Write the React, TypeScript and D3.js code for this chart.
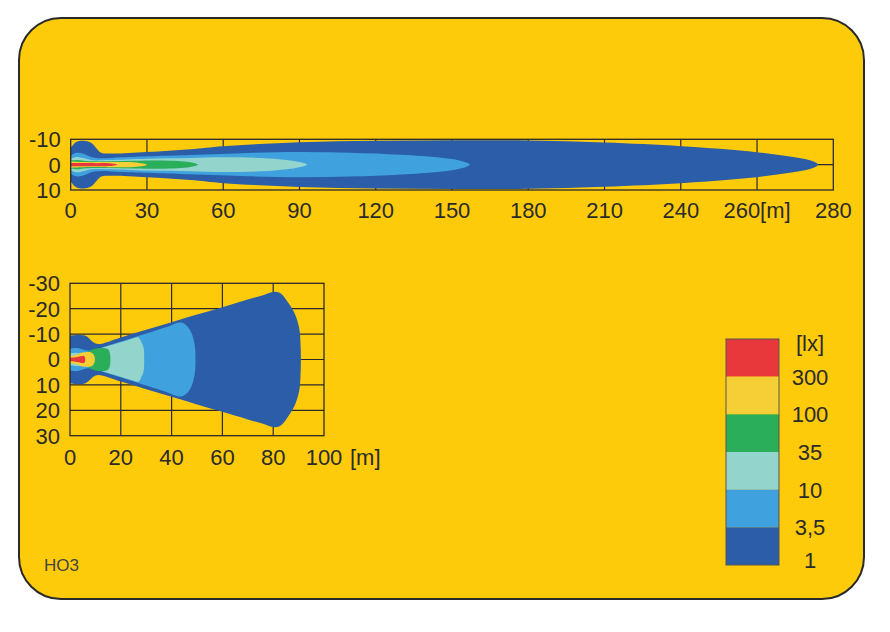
import React from 'react';
import * as d3 from 'd3';

// Illuminance levels (lx) and their colours, lowest first
const LEVELS = ['1', '3,5', '10', '35', '100', '300'];
const LEVEL_COLORS = ['#2B5DA9', '#3FA1DD', '#93D4CD', '#2BAE5A', '#F6CF36', '#E9383C'];
const LEGEND_LABELS = ['[lx]', '300', '100', '35', '10', '3,5', '1'];

// Top chart (distance 0..300 m, lateral -10..10 m) — half-width profiles [x m, half-width m]
const TOP_X_TICKS = [0, 30, 60, 90, 120, 150, 180, 210, 240, 270, 300];
const TOP_X_LABELS = ['0', '30', '60', '90', '120', '150', '180', '210', '240', '260[m]', '280'];
const TOP_Y_TICKS = [-10, 0, 10];
const TOP_1 = [[0, 6.5], [2, 8.8], [5, 9.4], [8, 8.6], [10, 6.6], [12, 4.7], [16, 4.4], [30, 5.0], [47, 6.1], [60, 7.3], [90, 8.8], [120, 9.4], [150, 9.6], [180, 9.5], [210, 8.7], [240, 7.3], [260, 5.9], [275, 4.3], [286, 2.7], [292, 1.3], [294, 0]];
const TOP_3_5 = [[0, 3.5], [2, 4.6], [5, 4.3], [8, 3.0], [12, 2.5], [20, 2.9], [47, 3.8], [70, 4.6], [90, 5.0], [110, 4.7], [130, 3.9], [145, 2.8], [153, 1.6], [157, 0]];
const TOP_10 = [[0, 2.2], [2, 3.0], [5, 2.6], [8, 1.8], [15, 1.8], [30, 2.3], [47, 2.6], [60, 2.9], [75, 2.6], [85, 1.8], [90, 1.0], [93, 0]];
const TOP_35 = [[0, 1.6], [3, 1.8], [6, 1.4], [15, 1.3], [25, 1.5], [35, 1.6], [42, 1.4], [47, 0.9], [50, 0]];
const TOP_100 = [[0, 1.2], [5, 1.0], [15, 1.0], [22, 1.0], [27, 0.7], [30, 0]];
const TOP_300 = [[0, 0.6], [10, 0.6], [15, 0.55], [18.3, 0]];

// Bottom chart (distance 0..100 m, lateral -30..30 m)
const BOT_X_TICKS = [0, 20, 40, 60, 80, 100];
const BOT_X_LABELS = ['0', '20', '40', '60', '80', '100'];
const BOT_X_UNIT = '[m]';
const BOT_Y_TICKS = [-30, -20, -10, 0, 10, 20, 30];
const BOT_1 = [[0, 9.4], [5.9, 9.4], [9.2, 6.8], [11.2, 6.1], [20, 8.7], [30, 11.7], [40, 14.7], [50, 17.7], [60, 20.6], [70, 23.6], [76, 25.3], [79, 26.4], [81, 26.7], [83, 26.0], [86, 22.2], [88.5, 18], [90.3, 12], [90.8, 5], [90.9, 0]];
const BOT_3_5 = [[0, 4.3], [3, 4.5], [6, 3.6], [9.2, 3.6], [15, 5.5], [22, 7.7], [30, 10.2], [38, 12.8], [43.5, 14.6], [46, 13.3], [48, 10], [49.2, 5], [49.4, 0]];
const BOT_10 = [[0, 2.4], [3, 2.6], [6, 2.0], [8, 2.6], [12, 4.4], [16, 5.6], [20, 6.8], [24.5, 8.2], [26.9, 8.7], [28.3, 6.5], [29.0, 4.5], [29.2, 0]];
const BOT_35 = [[0, 1.4], [3, 1.6], [6, 2.2], [8, 3.6], [10, 4.3], [13, 4.5], [15, 4.0], [15.7, 2.5], [15.9, 0]];
const BOT_100 = [[0, 1.4], [3, 2.0], [4, 2.6], [6, 2.9], [8.5, 2.7], [9.5, 1.6], [9.8, 0]];
const BOT_300 = [[0, 0.7], [3, 1.0], [5.5, 1.4], [5.9, 0.8], [6, 0]];

const TOP_CONTOURS = [TOP_1, TOP_3_5, TOP_10, TOP_35, TOP_100, TOP_300];
const BOT_CONTOURS = [BOT_1, BOT_3_5, BOT_10, BOT_35, BOT_100, BOT_300];

const BG = '#FECB0A';
const INK = '#2a2a2a';
const FONT = '"Liberation Sans", Arial, Helvetica, sans-serif';

function contourPath(profile: number[][], xs: any, ys: any) {
  const top = profile.map(([x, h]) => [xs(x), ys(-h)] as [number, number]);
  const bottom = profile.slice().reverse().map(([x, h]) => [xs(x), ys(h)] as [number, number]);
  const pts = top.concat(bottom.slice(1));
  return (d3.line().curve(d3.curveCatmullRom.alpha(0.5))(pts) || '') + 'Z';
}

function Chart({ xs, ys, xTicks, xLabels, yTicks, yGrid, contours, id, unit, labelY }: any) {
  const [x0, x1] = xs.range();
  const [y0, y1] = ys.range();
  return (
    <g>
      <clipPath id={id}>
        <rect x={x0} y={y0} width={x1 - x0} height={y1 - y0} />
      </clipPath>
      {xTicks.slice(1, -1).map((t: number) => (
        <line key={'gx' + t} x1={xs(t)} x2={xs(t)} y1={y0} y2={y1} stroke={INK} strokeWidth={1.2} />
      ))}
      {yGrid.map((t: number) => (
        <line key={'gy' + t} x1={x0} x2={x1} y1={ys(t)} y2={ys(t)} stroke={INK} strokeWidth={1.2} />
      ))}
      <g clipPath={`url(#${id})`}>
        {contours.map((c: number[][], i: number) => (
          <path key={i} d={contourPath(c, xs, ys)} fill={LEVEL_COLORS[i]} />
        ))}
      </g>
      <rect x={x0} y={y0} width={x1 - x0} height={y1 - y0} fill="none" stroke={INK} strokeWidth={1.3} />
      {yTicks.map((t: number) => (
        <text key={'yl' + t} x={x0 - 10} y={ys(t)} dy="0.36em" textAnchor="end" fontSize={22} fill={INK} fontFamily={FONT}>
          {t}
        </text>
      ))}
      {xTicks.map((t: number, i: number) => (
        <text key={'xl' + t} x={xs(t)} y={labelY} textAnchor="middle" fontSize={22} fill={INK} fontFamily={FONT}>
          {xLabels[i]}
        </text>
      ))}
      {unit ? (
        <text x={xs(xTicks[xTicks.length - 1]) + 26} y={labelY} textAnchor="start" fontSize={22} fill={INK} fontFamily={FONT}>
          {unit}
        </text>
      ) : null}
    </g>
  );
}

export default function App() {
  const topX = d3.scaleLinear().domain([0, 300]).range([70.7, 833.3]);
  const topY = d3.scaleLinear().domain([-10, 10]).range([139.3, 190]);
  const botX = d3.scaleLinear().domain([0, 100]).range([70, 324]);
  const botY = d3.scaleLinear().domain([-30, 30]).range([283.3, 435.7]);
  const legY = d3.scaleLinear().domain([0, 6]).range([339, 565]);
  const legendColors = LEVEL_COLORS.slice().reverse();

  return (
    <svg width={890} height={632} style={{ position: 'absolute', left: 0, top: 0, background: '#fff' }}>
      <rect x={19} y={18} width={845} height={581} rx={42} ry={42} fill={BG} stroke={INK} strokeWidth={2} />
      <Chart xs={topX} ys={topY} xTicks={TOP_X_TICKS} xLabels={TOP_X_LABELS} yTicks={TOP_Y_TICKS} yGrid={[0]} contours={TOP_CONTOURS} id="clipTop" labelY={218} />
      <Chart xs={botX} ys={botY} xTicks={BOT_X_TICKS} xLabels={BOT_X_LABELS} yTicks={BOT_Y_TICKS} yGrid={BOT_Y_TICKS.slice(1, -1)} contours={BOT_CONTOURS} id="clipBot" unit={BOT_X_UNIT} labelY={465} />
      <g>
        {legendColors.map((c, i) => (
          <rect key={LEVELS[5 - i]} x={726} y={legY(i)} width={53} height={legY(i + 1) - legY(i)} fill={c} />
        ))}
        <rect x={726} y={legY(0)} width={53} height={legY(6) - legY(0)} fill="none" stroke="#555" strokeWidth={1} />
        {LEGEND_LABELS.map((l, i) => (
          <text key={l} x={810} y={legY(i) + (i === 0 ? 4 : i === 6 ? -5 : 0)} dy="0.36em" textAnchor="middle" fontSize={22} fill={INK} fontFamily={FONT}>
            {l}
          </text>
        ))}
      </g>
      <text x={44} y={571} fontSize={17} fill="#444" fontFamily={FONT}>HO3</text>
    </svg>
  );
}
